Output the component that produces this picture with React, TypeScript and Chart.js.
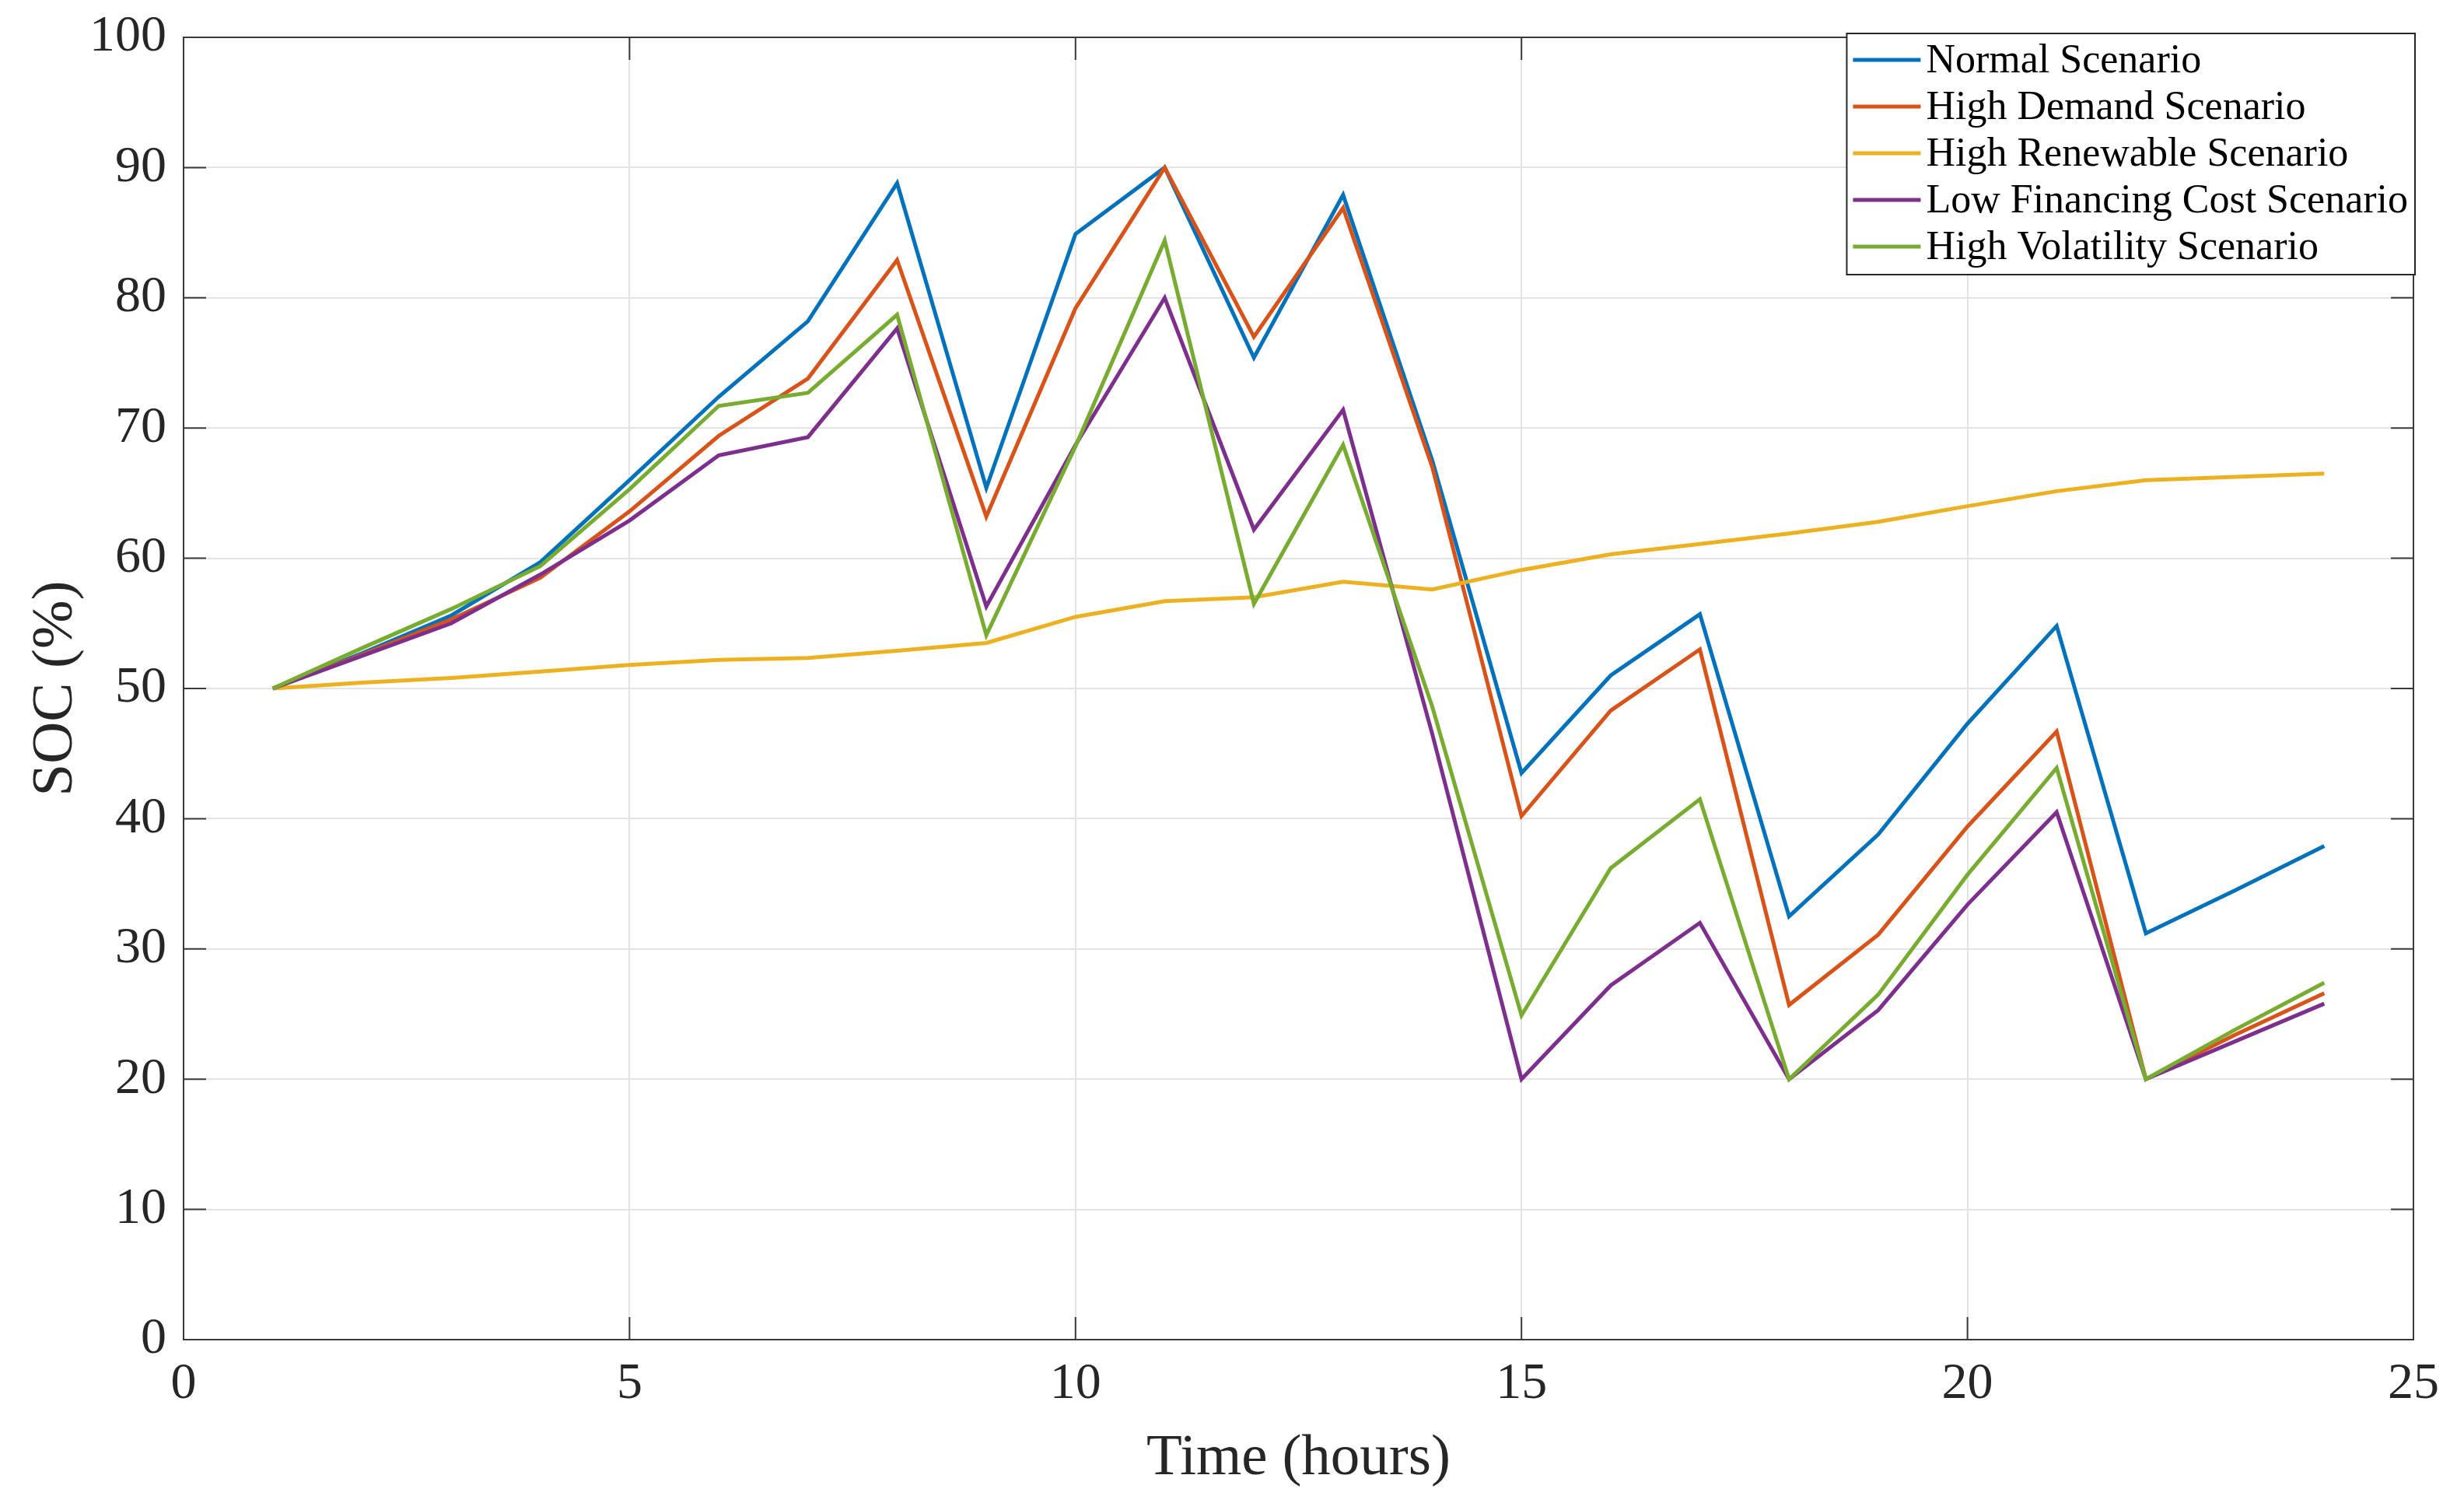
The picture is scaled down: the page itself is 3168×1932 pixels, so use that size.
import React, { useEffect, useRef } from 'react';
import { Chart, registerables } from 'chart.js';

Chart.register(...registerables);

const hours = [1, 2, 3, 4, 5, 6, 7, 8, 9, 10, 11, 12, 13, 14, 15, 16, 17, 18, 19, 20, 21, 22, 23, 24];

const normalScenario = [50, 52.7, 55.6, 59.7, 66.0, 72.4, 78.2, 88.8, 65.4, 84.9, 90.0, 75.4, 87.9, 67.5, 43.5, 51.0, 55.7, 32.5, 38.8, 47.3, 54.8, 31.2, 34.5, 37.9];
const highDemandScenario = [50, 52.6, 55.3, 58.5, 63.6, 69.4, 73.8, 82.9, 63.2, 79.2, 90.0, 77.0, 86.9, 67.0, 40.2, 48.3, 53.0, 25.7, 31.1, 39.4, 46.7, 20.0, 23.4, 26.6];
const highRenewableScenario = [50, 50.45, 50.8, 51.3, 51.8, 52.2, 52.35, 52.9, 53.5, 55.5, 56.7, 57.0, 58.2, 57.6, 59.1, 60.3, 61.1, 61.9, 62.8, 64.0, 65.15, 66.0, 66.25, 66.5];
const lowFinancingScenario = [50, 52.5, 55.0, 58.75, 62.9, 67.9, 69.3, 77.65, 56.3, 68.7, 80.0, 62.2, 71.4, 46.5, 20.0, 27.2, 32.0, 20.0, 25.3, 33.4, 40.5, 20.0, 22.9, 25.8];
const highVolatilityScenario = [50, 53.1, 56.1, 59.4, 65.3, 71.7, 72.7, 78.7, 54.1, 68.6, 84.4, 56.5, 68.7, 48.6, 24.9, 36.2, 41.5, 20.0, 26.5, 35.7, 43.9, 20.0, 23.8, 27.4];

const seriesLabels = [
  'Normal Scenario',
  'High Demand Scenario',
  'High Renewable Scenario',
  'Low Financing Cost Scenario',
  'High Volatility Scenario',
];
const seriesValues = [normalScenario, highDemandScenario, highRenewableScenario, lowFinancingScenario, highVolatilityScenario];
const seriesColors = ['#0072BD', '#D95319', '#EDB120', '#7E2F8E', '#77AC30'];

const xTitle = 'Time (hours)';
const yTitle = 'SOC (%)';

const FONT = "'Liberation Serif', 'Times New Roman', serif";
const AXIS = '#262626';

export default function App() {
  const ref = useRef<HTMLCanvasElement>(null);

  useEffect(() => {
    document.body.style.margin = '0';
    const canvas = ref.current as HTMLCanvasElement;

    const framePlugin = {
      id: 'frame',
      afterDatasetsDraw(chart: any) {
        const { ctx, chartArea, scales } = chart;
        const { left, right, top, bottom } = chartArea;
        const x = scales.x;
        const y = scales.y;
        ctx.save();
        ctx.strokeStyle = '#3a3a3a';
        ctx.lineWidth = 2;
        ctx.strokeRect(left, top, right - left, bottom - top);
        const tl = 29;
        ctx.beginPath();
        x.ticks.forEach((t: any) => {
          const px = x.getPixelForValue(t.value);
          ctx.moveTo(px, bottom);
          ctx.lineTo(px, bottom - tl);
          ctx.moveTo(px, top);
          ctx.lineTo(px, top + tl);
        });
        y.ticks.forEach((t: any) => {
          const py = y.getPixelForValue(t.value);
          ctx.moveTo(left, py);
          ctx.lineTo(left + tl, py);
          ctx.moveTo(right, py);
          ctx.lineTo(right - tl, py);
        });
        ctx.stroke();
        ctx.restore();
      },
    };

    const legendPlugin = {
      id: 'boxLegend',
      afterDraw(chart: any) {
        const { ctx, chartArea } = chart;
        const ds = chart.data.datasets;
        ctx.save();
        ctx.font = `52px ${FONT}`;
        let textW = 0;
        ds.forEach((d: any) => {
          textW = Math.max(textW, ctx.measureText(d.label).width);
        });
        const lead = 8;
        const sampleLen = 87;
        const gap = 7;
        const rightPad = 9;
        const rowH = 60;
        const boxW = lead + sampleLen + gap + textW + rightPad;
        const boxH = rowH * ds.length + 10;
        const boxRight = chartArea.right + 2;
        const boxTop = chartArea.top - 5;
        const boxLeft = boxRight - boxW;
        ctx.fillStyle = '#ffffff';
        ctx.fillRect(boxLeft, boxTop, boxW, boxH);
        ctx.strokeStyle = AXIS;
        ctx.lineWidth = 2;
        ctx.strokeRect(boxLeft, boxTop, boxW, boxH);
        ds.forEach((d: any, i: number) => {
          const cy = boxTop + 34 + i * rowH;
          ctx.strokeStyle = d.borderColor;
          ctx.lineWidth = 5;
          ctx.beginPath();
          ctx.moveTo(boxLeft + lead, cy);
          ctx.lineTo(boxLeft + lead + sampleLen, cy);
          ctx.stroke();
          ctx.fillStyle = '#000000';
          ctx.textBaseline = 'middle';
          ctx.textAlign = 'left';
          ctx.fillText(d.label, boxLeft + lead + sampleLen + gap, cy + 2);
        });
        ctx.restore();
      },
    };

    const datasets = seriesLabels.map((label, i) => ({
      label,
      data: hours.map((h, j) => ({ x: h, y: seriesValues[i][j] })),
      borderColor: seriesColors[i],
      backgroundColor: seriesColors[i],
      borderWidth: 5,
      pointRadius: 0,
      tension: 0,
      fill: false,
      order: seriesLabels.length - i,
    }));

    const chart = new Chart(canvas, {
      type: 'line',
      data: { datasets },
      options: {
        animation: false,
        responsive: true,
        maintainAspectRatio: false,
        devicePixelRatio: 1,
        layout: { padding: { left: 0, right: 65, top: 48, bottom: 0 } },
        plugins: {
          legend: { display: false },
          tooltip: { enabled: false },
        },
        scales: {
          x: {
            type: 'linear',
            min: 0,
            max: 25,
            ticks: {
              stepSize: 5,
              color: AXIS,
              font: { family: FONT, size: 66 },
              padding: 18,
              maxRotation: 0,
            },
            grid: { color: '#e4e4e4', lineWidth: 2, drawTicks: false },
            border: { display: false },
            title: {
              display: true,
              text: xTitle,
              color: AXIS,
              font: { family: FONT, size: 75 },
              padding: { top: 0, bottom: 12 },
            },
            afterFit(scale: any) {
              scale.height = 210;
              scale.paddingLeft = 0;
              scale.paddingRight = 0;
            },
          },
          y: {
            type: 'linear',
            min: 0,
            max: 100,
            ticks: {
              stepSize: 10,
              color: AXIS,
              font: { family: FONT, size: 66 },
              padding: 22,
            },
            grid: { color: '#e4e4e4', lineWidth: 2, drawTicks: false },
            border: { display: false },
            title: {
              display: true,
              text: yTitle,
              color: AXIS,
              font: { family: FONT, size: 75 },
              padding: { top: 27, bottom: 0 },
            },
            afterFit(scale: any) {
              scale.width = 236;
              scale.paddingTop = 0;
              scale.paddingBottom = 0;
            },
          },
        },
      },
      plugins: [framePlugin, legendPlugin],
    } as any);

    return () => chart.destroy();
  }, []);

  return (
    <div style={{ width: 3168, height: 1932, position: 'relative' }}>
      <canvas ref={ref} />
    </div>
  );
}
